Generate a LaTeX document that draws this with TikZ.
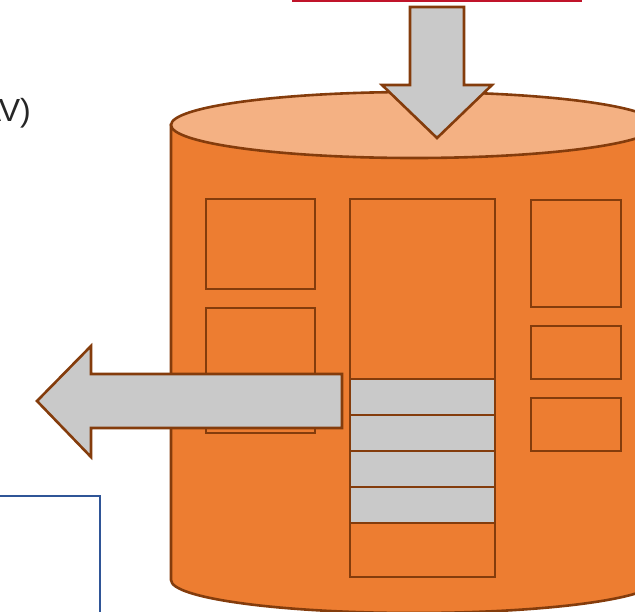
\documentclass[tikz,border=0pt]{standalone}
\usepackage{fontspec}
\setmainfont{Liberation Sans}
\usepackage{tikz}
\usetikzlibrary{positioning}
\definecolor{barrel}{HTML}{ED7D31}
\definecolor{lid}{HTML}{F4B183}
\definecolor{rim}{HTML}{843C0C}
\definecolor{flow}{HTML}{C9C9C9}
\definecolor{frame}{HTML}{2F5597}
\definecolor{redline}{HTML}{C0142A}
\definecolor{ink}{HTML}{262626}

\begin{document}
\begin{tikzpicture}[x=1pt, y=-1pt, line join=miter,
    body/.style={draw=rim, line width=2.6pt, fill=barrel},
    top/.style={draw=rim, line width=2.6pt, fill=lid},
    slot/.style={draw=rim, line width=2.6pt},
    band/.style={draw=rim, line width=2.6pt, fill=flow},
    blockarrow/.style={draw=rim, line width=2.6pt, fill=flow}]
    \useasboundingbox (0,0) rectangle (635,611);

    \draw[redline, line width=2.5pt] (292,1) -- (582,1);
    \node[anchor=base east, text=ink, font=\fontsize{32}{38}\selectfont, inner sep=0pt] (label) at (31,121) {AV)};
    \draw[frame, line width=2.5pt] (-10,496) -- (100,496) -- (100,620);

    \draw[body] (171,125) -- (171,580) arc[start angle=180, end angle=360, x radius=243pt, y radius=33pt] -- (657,125) -- cycle;
    \draw[top] (414,125) ellipse[x radius=243pt, y radius=33pt];

    \draw[slot] (206,199) rectangle (315,289);
    \draw[slot] (206,308) rectangle (315,433);
    \draw[slot] (350,199) rectangle (495,577);
    \foreach \y in {379,415,451,487}
        \draw[band] (350,\y) rectangle (495,\y+36);
    \draw[slot] (531,200) rectangle (621,307);
    \draw[slot] (531,326) rectangle (621,379);
    \draw[slot] (531,398) rectangle (621,451);

    \draw[blockarrow] (410,7) -- (464,7) -- (464,85) -- (492,85) -- (437,138)
        -- (382,85) -- (410,85) -- cycle;
    \draw[blockarrow] (342,374) -- (91,374) -- (91,346) -- (37,401) -- (91,457)
        -- (91,428) -- (342,428) -- cycle;
\end{tikzpicture}
\end{document}
